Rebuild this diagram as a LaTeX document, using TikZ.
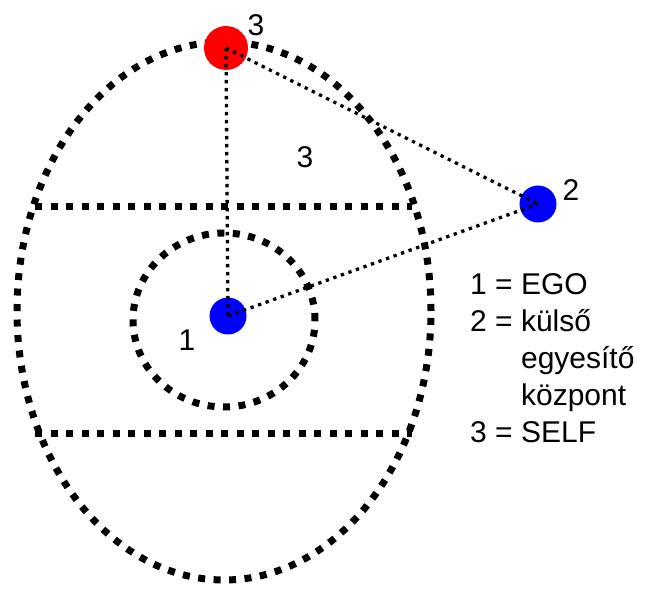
\documentclass[tikz,border=0pt]{standalone}
\usepackage{fontspec}
\setmainfont{Liberation Sans}
\usepackage{xcolor}
\usepackage{tikz}
\definecolor{selfred}{HTML}{FF0000}
\definecolor{egoblue}{HTML}{0000FF}
\tikzset{
  boundary/.style={draw=black,line width=7pt,dash pattern=on 7pt off 8.5pt},
  link/.style={draw=black,line width=3.3pt,dash pattern=on 3.3pt off 4.7pt},
  self node/.style={circle,fill=selfred,inner sep=0pt,minimum size=44pt},
  centre node/.style={circle,fill=egoblue,inner sep=0pt,minimum size=37pt},
  tag/.style={inner sep=0pt,font=\fontsize{30}{37}\selectfont}
}
\begin{document}
\begin{tikzpicture}[x=1pt,y=1pt]
  \useasboundingbox (0,0) rectangle (648,595);
  % self-structure and ego boundary
  \draw[boundary] (224,284) ellipse [x radius=207pt,y radius=269pt];
  \draw[boundary] (224,275) ellipse [x radius=91pt,y radius=87pt];
  \draw[boundary] (35,388) -- (412,388);
  \draw[boundary] (35,162) -- (412,162);
  % centres
  \node[self node] (self) at (226,547) {};
  \node[centre node] (ego) at (228,279) {};
  \node[centre node] (outer) at (538,391) {};
  \draw[link] (self.center) -- (ego.center);
  \draw[link] (self.center) -- (outer.center);
  \draw[link] (ego.center) -- (outer.center);
  % labels
  \node[tag] (self label) at (256,570) {3};
  \node[tag] (zone label) at (305,438) {3};
  \node[tag] (outer label) at (571,405) {2};
  \node[tag] (ego label) at (187,255) {1};
  \node[tag,anchor=north west,align=left] (legend) at (470,322)
    {1 = EGO\\2 = külső\\\phantom{2 = }egyesítő\\\phantom{2 = }központ\\3 = SELF};
\end{tikzpicture}
\end{document}
